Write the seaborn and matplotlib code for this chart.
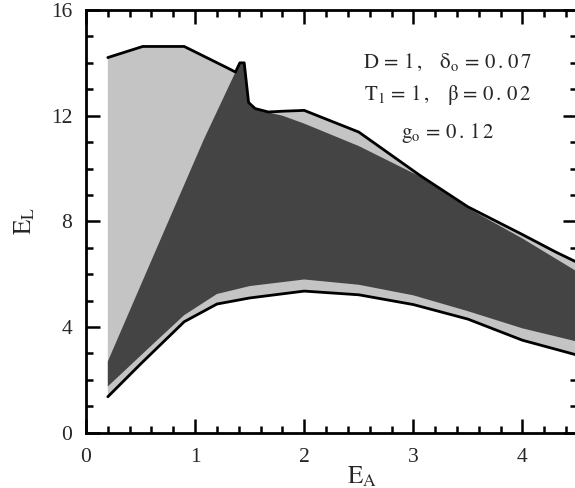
import matplotlib
matplotlib.use("Agg")
import matplotlib.pyplot as plt
import seaborn as sns
import numpy as np
import pandas as pd

# ---- data ----
# outer (light) region: upper edge
outer_top_x = [0.2, 0.52, 0.9, 1.3, 1.37, 1.41, 1.45, 1.49, 1.55, 1.67, 1.81, 2.0, 2.5, 3.06, 3.5, 4.0, 4.3, 4.5]
outer_top_y = [14.2, 14.62, 14.62, 13.8, 13.65, 14.0, 14.0, 12.5, 12.27, 12.14, 12.17, 12.2, 11.38, 9.74, 8.55, 7.5, 6.85, 6.45]
# outer (light) region: lower edge
outer_bot_x = [0.2, 0.5, 0.9, 1.2, 1.5, 2.0, 2.5, 3.0, 3.5, 4.0, 4.5]
outer_bot_y = [1.36, 2.6, 4.2, 4.87, 5.1, 5.36, 5.22, 4.85, 4.3, 3.5, 2.94]
# inner (dark) region: upper edge
inner_top_x = [0.2, 0.65, 1.08, 1.37, 1.41, 1.45, 1.49, 1.55, 1.67, 1.8, 2.0, 2.5, 3.06, 3.5, 4.0, 4.3, 4.5]
inner_top_y = [2.7, 7.0, 11.1, 13.65, 14.0, 14.0, 12.5, 12.27, 12.12, 12.0, 11.7, 10.85, 9.7, 8.5, 7.35, 6.6, 6.1]
# inner (dark) region: lower edge
inner_bot_x = [0.2, 0.6, 0.9, 1.2, 1.5, 2.0, 2.5, 3.0, 3.5, 4.0, 4.5]
inner_bot_y = [1.75, 3.3, 4.45, 5.25, 5.55, 5.8, 5.6, 5.2, 4.6, 3.95, 3.45]

x_ticks = [0, 1, 2, 3, 4]
y_ticks = [0, 4, 8, 12, 16]
annot = [r"$\mathrm{D\,{=}\,1\,,\ \ \ \delta_o\,{=}\,0\,.\,0\,7}$",
         r"$\mathrm{T_1\,{=}\,1\,,\ \ \ \beta\,{=}\,0\,.\,0\,2}$",
         r"$\mathrm{g_o\,{=}\,0\,.\,1\,2}$"]

# ---- style ----
sns.set_theme(style="ticks")
plt.rcParams["font.family"] = ["Liberation Serif", "DejaVu Serif"]
plt.rcParams["mathtext.fontset"] = "stix"

fig = plt.figure(figsize=(5.75, 4.88), dpi=100)
ax = fig.add_axes([86/575, 1 - 432.7/488, (577 - 86)/575, (432.7 - 10)/488])

light = "#c4c4c4"
dark = "#444444"

# light region polygon
ax.fill(list(outer_top_x) + list(outer_bot_x[::-1]),
        list(outer_top_y) + list(outer_bot_y[::-1]),
        color=light, lw=0, zorder=1)
# dark region polygon
ax.fill(list(inner_top_x) + list(inner_bot_x[::-1]),
        list(inner_top_y) + list(inner_bot_y[::-1]),
        color=dark, lw=0, zorder=2)

# black outlines
top_df = pd.DataFrame({"x": outer_top_x, "y": outer_top_y})
bot_df = pd.DataFrame({"x": outer_bot_x, "y": outer_bot_y})
sns.lineplot(data=top_df, x="x", y="y", sort=False, color="black", lw=2.0, ax=ax, zorder=3)
sns.lineplot(data=bot_df, x="x", y="y", sort=False, color="black", lw=2.0, ax=ax, zorder=3)

ax.set_xlim(0, 4.5)
ax.set_ylim(0, 16)
ax.set_xticks(x_ticks)
ax.set_yticks(y_ticks)
ax.set_xticks(np.arange(0, 4.51, 0.2), minor=True)
ax.set_yticks(np.arange(0, 16.1, 1), minor=True)
ax.tick_params(which="both", direction="in", top=True, right=True, width=1.8, color="black")
ax.tick_params(which="major", length=10)
ax.tick_params(which="minor", length=5)
ax.tick_params(axis="x", which="major", pad=11, labelsize=15.5)
ax.tick_params(axis="y", which="major", pad=10, labelsize=15.5)
for s in ax.spines.values():
    s.set_linewidth(2.0)
    s.set_color("black")

ax.set_xlabel(r"$\mathrm{E_A}$", fontsize=18)
ax.set_ylabel(r"$\mathrm{E_L}$", fontsize=18)
ax.xaxis.set_label_coords(0.562, -0.075)
ax.yaxis.set_label_coords(-0.10, 0.5)

for txt, yb in zip(annot, [13.82, 12.58, 11.14]):
    ax.text(3.31, yb, txt, ha="center", va="baseline", fontsize=15, zorder=5)

fig.savefig("out.png", dpi=100)
